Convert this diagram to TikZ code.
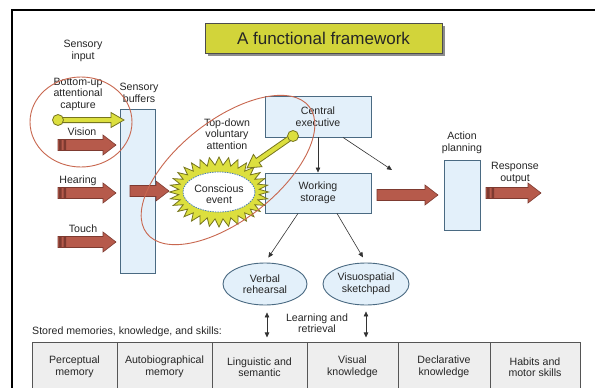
\documentclass[tikz,border=0pt]{standalone}
\usepackage{fontspec}
\setmainfont{Liberation Sans}
\usetikzlibrary{arrows.meta,calc,shapes.geometric}
\definecolor{rafill}{HTML}{B65A4B}
\definecolor{radraw}{HTML}{7E3A30}
\definecolor{ringred}{HTML}{C8674F}
\definecolor{bluefill}{HTML}{E3F0FA}
\definecolor{bluedraw}{HTML}{4A6A82}
\definecolor{yfill}{HTML}{DCDF3E}
\definecolor{ydraw}{HTML}{76751F}
\definecolor{titlefill}{HTML}{D2D43A}
\definecolor{tablefill}{HTML}{EEEEEE}
\definecolor{tableline}{HTML}{555555}
\definecolor{dotblue}{HTML}{4A7FB0}
\tikzset{
  lbl/.style={font=\fontsize{10.6}{11.5}\selectfont, align=center, inner sep=0pt, text=black!85},
  bbox/.style={draw=bluedraw, fill=bluefill, line width=0.9pt, inner sep=0pt},
  ell/.style={ellipse, draw=bluedraw, fill=bluefill, line width=0.9pt, inner sep=0pt, font=\fontsize{10.6}{11.5}\selectfont, align=center, text=black!85},
  redarrow/.style={fill=rafill, draw=radraw, line width=0.6pt},
  yarr/.style={fill=yfill, draw=ydraw, line width=0.8pt},
  ball/.style={circle, fill=yfill, draw=ydraw, line width=0.8pt, minimum size=11pt, inner sep=0pt},
  ring/.style={draw=ringred, line width=0.9pt},
  tarrow/.style={draw=black!80, line width=0.6pt, -{Triangle[length=5pt,width=4.5pt]}},
  darrow/.style={draw=black!80, line width=0.6pt, {Triangle[length=5pt,width=4.5pt]}-{Triangle[length=5pt,width=4.5pt]}},
  cell/.style={font=\fontsize{10.6}{11.5}\selectfont, align=center, inner sep=0pt, text=black!85}
}
\newcommand\blockarrow[2]{%
  \filldraw[redarrow] let \p1=#1, \p2=#2 in
  (\x1,\y1-5.5pt) -- (\x2-13pt,\y1-5.5pt) -- (\x2-13pt,\y1-10pt) -- (\x2,\y1)
  -- (\x2-13pt,\y1+10pt) -- (\x2-13pt,\y1+5.5pt) -- (\x1,\y1+5.5pt) -- cycle;}
\newcommand\tailstripes[1]{%
  \fill[radraw] let \p1=#1 in (\x1+1pt,\y1-5.5pt) rectangle (\x1+3.5pt,\y1+5.5pt)
  (\x1+5.5pt,\y1-5.5pt) rectangle (\x1+8pt,\y1+5.5pt);}
\newcommand\yarrow[3]{%
  \begin{scope}[shift={#1}, rotate=#2]
  \filldraw[yarr] (0,-2.6) -- (#3-13,-2.6) -- (#3-13,-7.5) -- (#3,0) -- (#3-13,7.5) -- (#3-13,2.6) -- (0,2.6) -- cycle;
  \end{scope}}
\begin{document}
\begin{tikzpicture}[x=1pt,y=-1pt]
\useasboundingbox (0,0) rectangle (595,388);
\clip (0,0) rectangle (595,388);
\fill[white] (0,0) rectangle (595,388);
% frame
\draw[line width=2.2pt] (12,400) -- (12,10) -- (600,10);
% title
\fill[black!45] (207.5,25.5) rectangle (444.5,55.5);
\node[draw=black!70, fill=titlefill, line width=0.9pt, minimum width=237, minimum height=30, font=\fontsize{17}{20}\selectfont, text=black!85] (title) at (323.5,38) {A functional framework};
% labels left
\node[lbl] (sin) at (83,51) {Sensory\\input};
\node[lbl] (bu) at (78,94) {Bottom-up\\attentional\\capture};
\node[lbl] (vis) at (82,132) {Vision};
\node[lbl] (hear) at (78,181) {Hearing};
\node[lbl] (touch) at (83,229) {Touch};
\node[lbl] (sbl) at (139,93) {Sensory\\buffers};
% sensory buffer box
\node[bbox, minimum width=35, minimum height=164] (buf) at (137.5,191) {};
% input arrows
\coordinate (vin) at (58,145); \coordinate (vout) at (116,145);
\coordinate (hin) at (58,193); \coordinate (hout) at (116,193);
\coordinate (tin) at (58,242); \coordinate (tout) at (116,242);
\blockarrow{(vin)}{(vout)} \tailstripes{(vin)}
\blockarrow{(hin)}{(hout)} \tailstripes{(hin)}
\blockarrow{(tin)}{(tout)} \tailstripes{(tin)}
% bottom-up yellow arrow
\coordinate (b1c) at (58,120);
\yarrow{(b1c)}{0}{66}
\node[ball] (b1) at (b1c) {};
% central executive and working storage
\node[bbox, minimum width=106, minimum height=41] (ce) at (318,116.5) {};
\node[lbl] at (ce) {Central\\executive};
\node[bbox, minimum width=106, minimum height=40] (ws) at (318,193) {};
\node[lbl] at (ws) {Working\\storage};
% starburst
\filldraw[yarr] plot[samples=65, domain=0:64] ({219+(45+4.5*cos(\x*180))*cos(\x*5.625)}, {192+(31+4*cos(\x*180))*sin(\x*5.625)}) -- cycle;
\filldraw[fill=white, draw=dotblue, line width=0.8pt, dash pattern=on 1.5pt off 1pt] (219,192) ellipse (36 and 20);
\node[lbl] (cev) at (219,194) {Conscious\\event};
% buffer -> conscious
\coordinate (bcin) at (130,191); \coordinate (bcout) at (169,191);
\blockarrow{(bcin)}{(bcout)}
% top-down
\node[lbl] (td) at (227,134) {Top-down\\voluntary\\attention};
\coordinate (b2c) at (293,136);
\yarrow{(b2c)}{214.8}{56}
\node[ball] (b2) at (b2c) {};
% thin arrows from CE
\draw[tarrow] (ce.south) -- (ws.north);
\coordinate (ceout) at (392,170);
\draw[tarrow] ($(ce.south)+(25,0)$) -- (ceout);
% action planning
\node[lbl] (apl) at (462,143) {Action\\planning};
\node[bbox, minimum width=36, minimum height=70] (ap) at (462,195) {};
\coordinate (wain) at (377,195); \coordinate (waout) at (438,195);
\blockarrow{(wain)}{(waout)}
\node[lbl] (rol) at (515,173) {Response\\output};
\coordinate (roin) at (486,193); \coordinate (roout) at (541,193);
\blockarrow{(roin)}{(roout)} \tailstripes{(roin)}
% subsidiary systems
\node[ell, minimum width=84, minimum height=42] (vr) at (265,284) {Verbal\\rehearsal};
\node[ell, minimum width=86, minimum height=42] (vs) at (366,284) {Visuospatial\\sketchpad};
\draw[tarrow, shorten >=6pt] ($(ws.south)+(-20,0)$) -- (vr.north);
\draw[tarrow, shorten >=6pt] ($(ws.south)+(19,0)$) -- (vs.north);
\draw[darrow] ($(vr.south)+(2,7)$) -- ($(vr.south)+(2,32)$);
\draw[darrow] ($(vs.south)+(0,6)$) -- ($(vs.south)+(0,32)$);
\node[lbl] (lr) at (317,323) {Learning and\\retrieval};
% stored memories
\node[lbl, anchor=west] (sm) at (32,332) {Stored memories, knowledge, and skills:};
\filldraw[fill=tablefill, draw=tableline, line width=0.9pt] (32,342) rectangle (580,400);
\foreach \xx in {117,212,307,398,490} \draw[tableline, line width=0.9pt] (\xx,342) -- (\xx,400);
\node[cell] (c1) at (74.5,367) {Perceptual\\memory};
\node[cell] (c2) at (164.5,367) {Autobiographical\\memory};
\node[cell] (c3) at (259.5,367) {Linguistic and\\semantic};
\node[cell] (c4) at (352.5,367) {Visual\\knowledge};
\node[cell] (c5) at (444,367) {Declarative\\knowledge};
\node[cell] (c6) at (535,367) {Habits and\\motor skills};
% red rings
\draw[ring] (81,122) ellipse (51 and 45);
\draw[ring, rotate around={38:(228,170)}] (228,170) ellipse (103 and 50);
\end{tikzpicture}
\end{document}
